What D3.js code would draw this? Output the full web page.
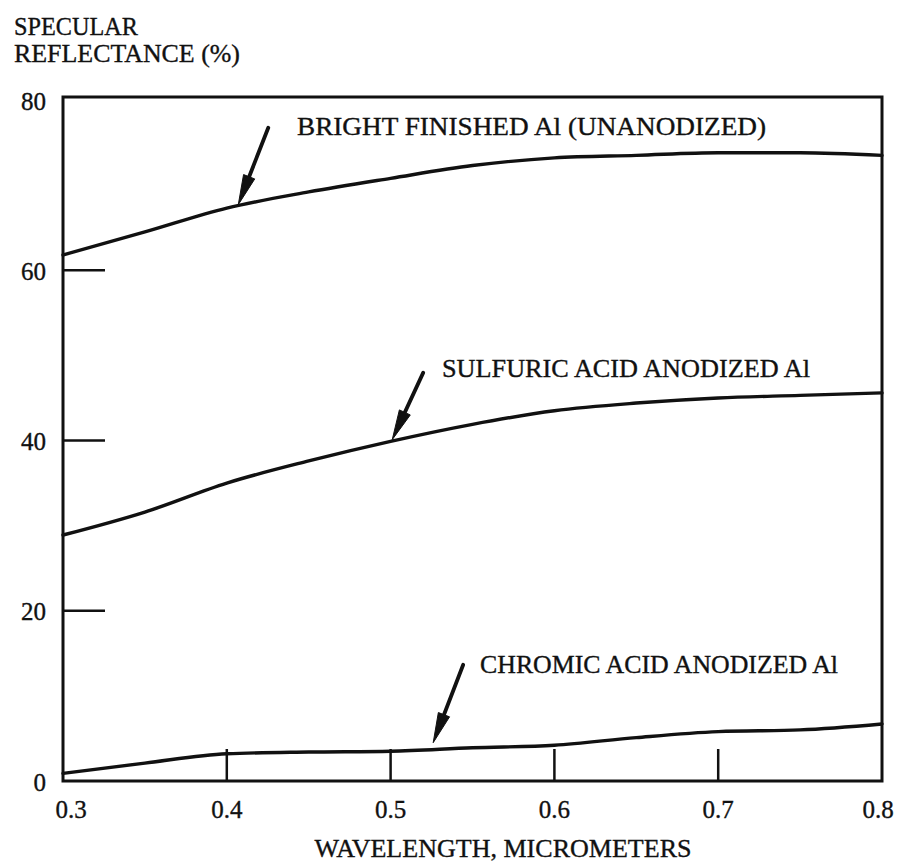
<!DOCTYPE html>
<html>
<head>
<meta charset="utf-8">
<script src="https://cdn.jsdelivr.net/npm/d3@7"></script>
<style>
  html, body { margin: 0; padding: 0; background: #fff; }
  svg { display: block; }
  text { font-family: "Liberation Serif", "DejaVu Serif", serif; fill: #111; stroke: #111; stroke-width: 0.35px; }
</style>
</head>
<body>
<svg id="chart" width="904" height="863"></svg>
<script>
// ---- data ----
const wavelengths = [0.30, 0.35, 0.40, 0.45, 0.50, 0.55, 0.60, 0.65, 0.70, 0.75, 0.80];
const brightFinished = [61.8, 64.5, 67.3, 69.2, 70.8, 72.3, 73.2, 73.5, 73.8, 73.8, 73.5];
const sulfuricAnodized = [28.9, 31.6, 35.0, 37.6, 39.9, 41.9, 43.5, 44.4, 45.0, 45.3, 45.6];
const chromicAnodized = [0.9, 2.1, 3.2, 3.4, 3.5, 3.9, 4.2, 5.1, 5.8, 6.0, 6.7];
const xTickValues = [0.3, 0.4, 0.5, 0.6, 0.7, 0.8];
const xTickLabels = ["0.3", "0.4", "0.5", "0.6", "0.7", "0.8"];
const yTickValues = [0, 20, 40, 60, 80];
const yTickLabels = ["0", "20", "40", "60", "80"];
const seriesNames = ["BRIGHT FINISHED Al (UNANODIZED)", "SULFURIC ACID ANODIZED Al", "CHROMIC ACID ANODIZED Al"];
// arrow tips (data coords) for each series label
const arrowTipX = [0.407, 0.501, 0.526];
const arrowTipY = [67.7, 40.1, 4.5];

// ---- layout ----
const svg = d3.select("#chart");
const frameTop = 97;
const x = d3.scaleLinear().domain([0.3, 0.8]).range([63, 882]);
const y = d3.scaleLinear().domain([0, 80]).range([781, 100]);

const ink = "#111";

// Y axis title
svg.append("text").attr("x", 14).attr("y", 35).attr("font-size", 25)
  .attr("textLength", 124).attr("lengthAdjust", "spacingAndGlyphs").text("SPECULAR");
svg.append("text").attr("x", 14).attr("y", 62).attr("font-size", 25)
  .attr("textLength", 226).attr("lengthAdjust", "spacingAndGlyphs").text("REFLECTANCE (%)");

// frame
svg.append("rect")
  .attr("x", x(0.3)).attr("y", frameTop)
  .attr("width", x(0.8) - x(0.3)).attr("height", y(0) - frameTop)
  .attr("fill", "none").attr("stroke", ink).attr("stroke-width", 3);

// inner y ticks
const yTicksInner = yTickValues.filter(v => v > 0 && v < 80);
svg.append("g").selectAll("line").data(yTicksInner).join("line")
  .attr("x1", x(0.3)).attr("x2", x(0.3) + 42)
  .attr("y1", d => y(d)).attr("y2", d => y(d))
  .attr("stroke", ink).attr("stroke-width", 2.5);

// inner x ticks
const xTicksInner = xTickValues.filter(v => v > 0.3 && v < 0.8);
svg.append("g").selectAll("line").data(xTicksInner).join("line")
  .attr("x1", d => x(d)).attr("x2", d => x(d))
  .attr("y1", y(0)).attr("y2", y(0) - 32)
  .attr("stroke", ink).attr("stroke-width", 2.5);

// y tick labels
svg.append("g").selectAll("text").data(yTickValues).join("text")
  .attr("x", 46).attr("y", d => y(d)).attr("dy", "0.38em")
  .attr("text-anchor", "end").attr("font-size", 25)
  .text((d, i) => yTickLabels[i]);

// x tick labels
svg.append("g").selectAll("text").data(xTickValues).join("text")
  .attr("x", (d, i) => x(d) + (i === 0 ? 8 : (i === xTickValues.length - 1 ? -4 : 0)))
  .attr("y", 818)
  .attr("text-anchor", "middle").attr("font-size", 25)
  .text((d, i) => xTickLabels[i]);

// x axis title
svg.append("text").attr("x", 503).attr("y", 857)
  .attr("text-anchor", "middle").attr("font-size", 25)
  .attr("textLength", 377).attr("lengthAdjust", "spacingAndGlyphs")
  .text("WAVELENGTH, MICROMETERS");

// curves
const line = d3.line()
  .x((d, i) => x(wavelengths[i]))
  .y(d => y(d))
  .curve(d3.curveMonotoneX);

[brightFinished, sulfuricAnodized, chromicAnodized].forEach(s => {
  svg.append("path").attr("d", line(s))
    .attr("fill", "none").attr("stroke", ink).attr("stroke-width", 3.4)
    .attr("stroke-linejoin", "round").attr("stroke-linecap", "round");
});

// labels + arrows
const labelPos = [
  {tx: 297, ty: 135, len: 469, dx: 30, dy: -77},
  {tx: 442, ty: 377, len: 368, dx: 31, dy: -67},
  {tx: 480, ty: 673, len: 358, dx: 30, dy: -78}
];

seriesNames.forEach((name, i) => {
  const p = labelPos[i];
  svg.append("text").attr("x", p.tx).attr("y", p.ty)
    .attr("font-size", 25)
    .attr("textLength", p.len).attr("lengthAdjust", "spacingAndGlyphs")
    .text(name);

  const tipX = x(arrowTipX[i]), tipY = y(arrowTipY[i]);
  const tailX = tipX + p.dx, tailY = tipY + p.dy;
  const L = Math.hypot(p.dx, p.dy);
  const ux = p.dx / L, uy = p.dy / L;      // unit vector tip->tail
  const headLen = 30, headW = 6;
  const bx = tipX + ux * headLen, by = tipY + uy * headLen;
  const px = -uy, py = ux;
  svg.append("line")
    .attr("x1", tailX).attr("y1", tailY).attr("x2", bx).attr("y2", by)
    .attr("stroke", ink).attr("stroke-width", 3.8).attr("stroke-linecap", "round");
  svg.append("path")
    .attr("d", `M${tipX},${tipY} L${bx + px * headW},${by + py * headW} L${bx - px * headW},${by - py * headW} Z`)
    .attr("fill", ink).attr("stroke", ink).attr("stroke-width", 1);
});
</script>
</body>
</html>
